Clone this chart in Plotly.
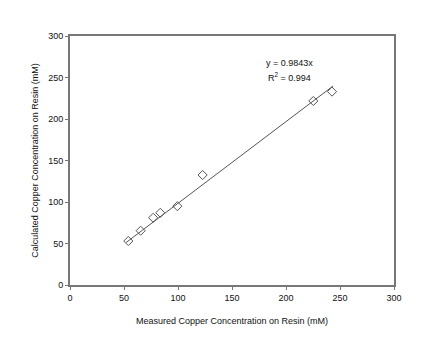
import plotly.graph_objects as go

measured = [54, 65.4, 77, 83.6, 99.4, 122.8, 225.3, 242.6]
calculated = [53, 65.4, 81, 87, 95, 132.5, 221.7, 233]
slope = 0.9843
r2 = 0.994

x_fit = [min(measured) - 2, max(measured) + 1]
y_fit = [slope * v for v in x_fit]

fig = go.Figure()
fig.add_trace(go.Scatter(x=x_fit, y=y_fit, mode="lines",
                         line=dict(color="#555555", width=1), showlegend=False))
fig.add_trace(go.Scatter(x=measured, y=calculated, mode="markers",
                         marker=dict(symbol="diamond-open", size=7,
                                     color="#555555", line=dict(width=1)),
                         showlegend=False))

font = dict(family="Liberation Sans, Arial, sans-serif", size=9, color="#111111")

fig.add_annotation(x=203, y=267, text=f"y = {slope}x", showarrow=False, font=font)
fig.add_annotation(x=203, y=251, text=f"R<sup>2</sup> = {r2}", showarrow=False, font=font)

axis_common = dict(range=[0, 300], dtick=50, showgrid=False, zeroline=False,
                   showline=True, linecolor="#777777", linewidth=2, mirror=True,
                   ticks="outside", ticklen=3, tickcolor="#777777", automargin=False,
                   tickfont=dict(family="Liberation Sans, Arial, sans-serif",
                                 size=9, color="#111111"))

fig.update_xaxes(title=dict(text="Measured Copper Concentration on Resin (mM)",
                            font=font, standoff=16), **axis_common)
fig.update_yaxes(title=dict(text="Calculated Copper Concentration on Resin (mM)",
                            font=font, standoff=8), **axis_common)

fig.update_layout(width=432, height=362, plot_bgcolor="white", paper_bgcolor="white",
                  margin=dict(l=62, r=46, t=28, b=85))

fig.write_html("out.html")
